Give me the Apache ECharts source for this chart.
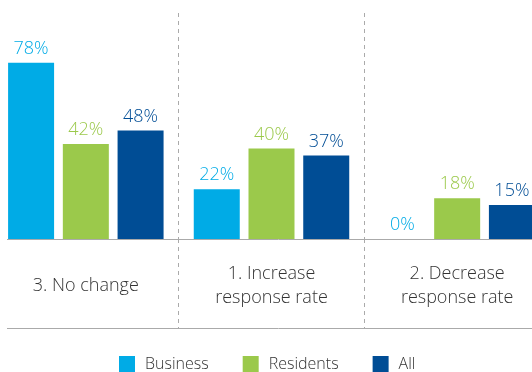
<!DOCTYPE html>
<html><head><meta charset="utf-8">
<script src="https://cdn.jsdelivr.net/npm/echarts@6/dist/echarts.min.js"></script>
<style>html,body{margin:0;padding:0;background:#fff;overflow:hidden;width:532px;height:372px;position:relative}
#c{position:absolute;left:-7px;top:0;width:557px;height:372px}</style>
</head><body><div id="c"></div>
<script>
const categories = ['3. No change', '1. Increase\nresponse rate', '2. Decrease\nresponse rate'];
const business = [78, 22, 0];
const residents = [42, 40, 18];
const allResp = [48, 37, 15];
const seriesNames = ['Business', 'Residents', 'All'];
const colors = ['#00ABE6', '#9BC94B', '#004D95'];

const FONT = 'Open Sans';
const WEIGHT = 300;
const chart = echarts.init(document.getElementById('c'), null, {renderer: 'canvas'});
function bar(name, data, color) {
  return {
    name: name, type: 'bar', data: data, xAxisIndex: 0, yAxisIndex: 0,
    barWidth: 46, barGap: '19%',
    itemStyle: {color: color},
    label: {show: true, position: 'top', distance: 5, formatter: '{c}%', color: color,
            fontFamily: FONT, fontWeight: WEIGHT, fontSize: 18},
    emphasis: {disabled: true}
  };
}
const splitDash = {show: true, interval: 0, lineStyle: {color: '#aaaaaa', type: [4, 4], width: 1}};
chart.setOption({
  animation: false,
  color: colors,
  grid: [
    {left: 0, width: 557, top: 13, height: 226},
    {left: 0, width: 557, top: 239, height: 90}
  ],
  xAxis: [
    {type: 'category', gridIndex: 0, data: categories,
     axisLine: {show: false}, axisTick: {show: false}, splitLine: splitDash,
     axisLabel: {show: true, interval: 0, margin: 47, verticalAlign: 'middle', lineHeight: 24,
                 color: '#333333', fontFamily: FONT, fontWeight: WEIGHT, fontSize: 18}},
    {type: 'category', gridIndex: 1, data: categories,
     axisLine: {show: false}, axisTick: {show: false}, axisLabel: {show: false}, splitLine: splitDash}
  ],
  yAxis: [
    {type: 'value', gridIndex: 0, min: 0, max: 100, show: false, splitLine: {show: false}},
    {type: 'value', gridIndex: 1, min: 0, max: 1, show: false, splitLine: {show: false}}
  ],
  legend: {
    data: seriesNames, top: 351, left: 121, icon: 'rect', itemWidth: 16, itemHeight: 16,
    itemGap: 34, selectedMode: false,
    textStyle: {color: '#333333', fontFamily: FONT, fontWeight: WEIGHT, fontSize: 16, padding: [0, 0, 0, 5]}
  },
  graphic: [
    {type: 'line', shape: {x1: 14, y1: 239.5, x2: 557, y2: 239.5}, style: {stroke: '#aaaaaa', lineWidth: 1}, z: 10},
    {type: 'line', shape: {x1: 14, y1: 328.5, x2: 557, y2: 328.5}, style: {stroke: '#aaaaaa', lineWidth: 1}, z: 10}
  ],
  series: [
    bar(seriesNames[0], business, colors[0]),
    bar(seriesNames[1], residents, colors[1]),
    bar(seriesNames[2], allResp, colors[2])
  ]
});
</script></body></html>
